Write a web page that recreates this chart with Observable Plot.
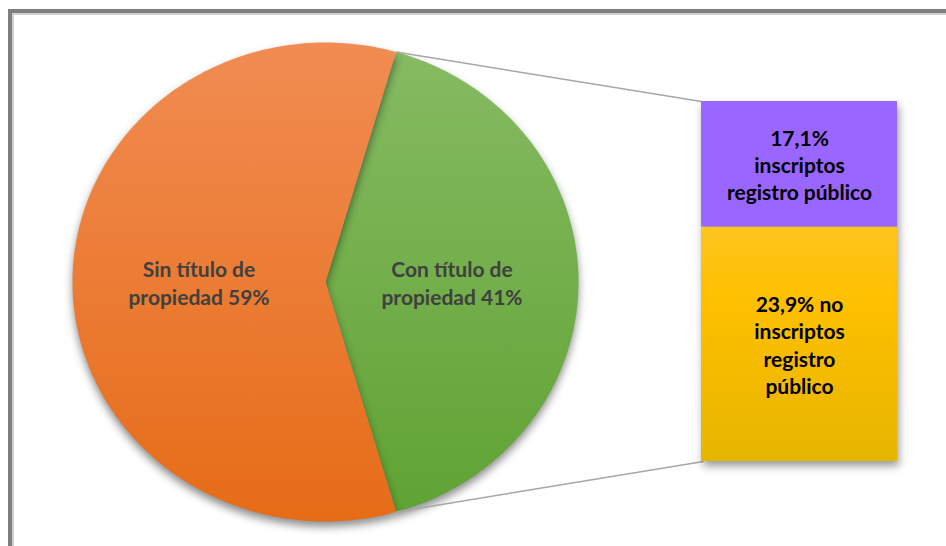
<!DOCTYPE html>
<html>
<head>
<meta charset="utf-8">
<script src="https://cdn.jsdelivr.net/npm/d3@7"></script>
<script src="https://cdn.jsdelivr.net/npm/@observablehq/plot@0.6"></script>
<style>
  html, body { margin: 0; padding: 0; background: #fff; }
  #wrap { position: relative; width: 946px; height: 546px; overflow: hidden; }
  #wrap svg { position: absolute; left: 0; top: 0; background: transparent; }
  #frame { position: absolute; left: 8px; top: 9px; width: 1200px; height: 1200px;
           border: 4px solid #7f7f7f; box-shadow: inset 2px 2px 0 #cfcfcf; box-sizing: border-box; }
</style>
</head>
<body>
<div id="wrap"><div id="frame"></div></div>
<script>
// ---- data ----
const pieCategories = ["Con título de propiedad", "Sin título de propiedad"];
const pieShares = [41, 59];
const pieLabels = ["Con título de\npropiedad 41%", "Sin título de\npropiedad 59%"];
const pieFills = ["url(#gGreen)", "url(#gOrange)"];

const barCategories = ["no inscriptos registro público", "inscriptos registro público"];
const barValues = [26.7, 14.3]; // segment heights
const barLabels = ["23,9% no\ninscriptos\nregistro\npúblico", "17,1%\ninscriptos\nregistro público"];
const barFills = ["url(#gYellow)", "#9966ff"];

// ---- pie geometry from shares ----
const total = d3.sum(pieShares);
const startDeg = 90 - (pieShares[0] / total) * 180; // first slice centred on the right
let acc = startDeg;
const slices = pieShares.map((v, i) => {
  const a0 = acc, a1 = acc + (v / total) * 360;
  acc = a1;
  const pts = [{x: 0, y: 0}];
  const n = Math.ceil(a1 - a0);
  for (let k = 0; k <= n; k++) {
    const a = (a0 + (a1 - a0) * k / n) * Math.PI / 180;
    pts.push({x: Math.sin(a), y: Math.cos(a)});
  }
  pts.push({x: 0, y: 0});
  const am = ((a0 + a1) / 2) * Math.PI / 180;
  return {pts, a0, a1, label: pieLabels[i], fill: pieFills[i], lx: 0.5 * Math.sin(am), ly: 0.5 * Math.cos(am)};
});

const W = 946, H = 546;
const font = "Lato, 'Open Sans', sans-serif";

const pie = Plot.plot({
  width: W, height: H, margin: 0,
  style: {fontFamily: font, background: "transparent"},
  x: {domain: [-1, 1], range: [72, 578], axis: null},
  y: {domain: [-1, 1], range: [521, 42], axis: null},
  marks: [
    ...slices.map(s => Plot.line(s.pts, {x: "x", y: "y", fill: s.fill, stroke: "none"})),
    Plot.text(slices, {x: "lx", y: "ly", text: "label", fill: "#404040", fontSize: 21, fontWeight: "bold", lineHeight: 1.36})
  ]
});

const cum = d3.cumsum(barValues);
const barData = barValues.map((v, i) => ({
  cat: barCategories[i], value: v, label: barLabels[i], fill: barFills[i],
  mid: cum[i] - v / 2, k: "bar"
}));

const bar = Plot.plot({
  width: W, height: H, margin: 0,
  style: {fontFamily: font, background: "transparent"},
  x: {type: "band", domain: ["bar"], range: [701, 897], padding: 0, axis: null},
  y: {domain: [0, d3.sum(barValues)], range: [461, 101], axis: null},
  marks: [
    Plot.barY(barData, {x: "k", y: "value", fill: "fill"}),
    Plot.text(barData, {x: "k", y: "mid", text: "label", fill: "#000", fontSize: 21, fontWeight: "bold", lineHeight: 1.3})
  ]
});

// connectors from the green slice edges to the bar corners
const px = pie.scale("x"), py = pie.scale("y"), bx = bar.scale("x"), by = bar.scale("y");
const g = slices[0];
const rad = d => d * Math.PI / 180;
const links = [
  {x1: px.apply(Math.sin(rad(g.a0))), y1: py.apply(Math.cos(rad(g.a0))), x2: bx.apply("bar"), y2: by.apply(d3.sum(barValues))},
  {x1: px.apply(Math.sin(rad(g.a1))), y1: py.apply(Math.cos(rad(g.a1))), x2: bx.apply("bar") + 2, y2: by.apply(0)}
];
const conn = Plot.plot({
  width: W, height: H, margin: 0,
  style: {background: "transparent"},
  x: {type: "identity", axis: null}, y: {type: "identity", axis: null},
  marks: [Plot.link(links, {x1: "x1", y1: "y1", x2: "x2", y2: "y2", stroke: "#a6a6a6", strokeWidth: 1.5})]
});

// gradients
d3.select(pie).insert("defs", ":first-child").html(`
  <linearGradient id="gOrange" gradientUnits="userSpaceOnUse" x1="0" y1="42" x2="0" y2="521">
    <stop offset="0" stop-color="#f18c52"/><stop offset="1" stop-color="#e66c17"/></linearGradient>
  <linearGradient id="gGreen" gradientUnits="userSpaceOnUse" x1="0" y1="42" x2="0" y2="521">
    <stop offset="0" stop-color="#86bb63"/><stop offset="1" stop-color="#5fa232"/></linearGradient>`);
d3.select(bar).insert("defs", ":first-child").html(`
  <linearGradient id="gYellow" gradientUnits="userSpaceOnUse" x1="0" y1="227" x2="0" y2="461">
    <stop offset="0" stop-color="#fdc51e"/><stop offset="0.3" stop-color="#ffc000"/><stop offset="1" stop-color="#e6b500"/></linearGradient>`);

d3.select(pie).selectAll('g[aria-label="line"]').style("filter", "drop-shadow(0px 5px 4px rgba(0,0,0,0.45))");
d3.select(bar).selectAll('g[aria-label="bar"]').style("filter", "drop-shadow(2px 5px 4px rgba(0,0,0,0.4))");

const wrap = document.getElementById("wrap");
wrap.appendChild(pie);
wrap.appendChild(conn);
wrap.appendChild(bar);
</script>
</body>
</html>
